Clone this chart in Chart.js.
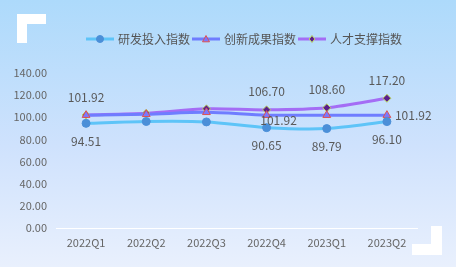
<!DOCTYPE html>
<html>
<head>
<meta charset="utf-8">
<script src="https://cdn.jsdelivr.net/npm/chart.js@4/dist/chart.umd.min.js"></script>
<style>
	html, body { margin: 0; padding: 0; }
	body {
		width: 456px; height: 267px; overflow: hidden; position: relative;
		background: linear-gradient(180deg, #addafb 0%, #cfe2fd 55%, #e9f0fd 100%);
	}
	.corner { position: absolute; background: #fff; }
	.chart-box { position: absolute; left: 0; top: 0; width: 456px; height: 267px; }
</style>
</head>
<body>
<div class="corner" style="left:17px;top:14px;width:10px;height:29px"></div>
<div class="corner" style="left:17px;top:14px;width:29px;height:10px"></div>
<div class="corner" style="left:431px;top:226px;width:11px;height:29px"></div>
<div class="corner" style="left:412px;top:244px;width:30px;height:11px"></div>
<div class="chart-box"><canvas id="c" width="456" height="267"></canvas></div>
<script>
// data
var categories = ["2022Q1", "2022Q2", "2022Q3", "2022Q4", "2023Q1", "2023Q2"];
var seriesNames = ["研发投入指数", "创新成果指数", "人才支撑指数"];
var rdInput = [94.51, 96.2, 95.8, 90.65, 89.79, 96.10];
var innovation = [101.92, 102.7, 104.5, 101.92, 101.92, 101.92];
var talent = [102.1, 103.6, 107.6, 106.70, 108.60, 117.20];
var yTicks = [0, 20, 40, 60, 80, 100, 120, 140];

var FONT = "'Noto Sans CJK SC', 'Noto Sans', sans-serif";

// which point labels are shown, and where
var labelPlaces = [
	["bottom", null, null, "bottom", "bottom", "bottom"],
	["top", null, null, "rightbelow", null, "right"],
	[null, null, null, "top", "top", "top"],
];

var styles = [
	{ line: "#5ec4f8", fill: "#4b8fd8", border: "#4b8fd8", shape: "circle", size: 4 },
	{ line: "#6f7dff", fill: "#7a78ff", border: "#e0504f", shape: "triangle", size: 4.5 },
	{ line: "#a46df5", fill: "#5b1e8c", border: "#b9d95f", shape: "rectRot", size: 4 },
];

function drawMarker(ctx, shape, x, y, r, fill, stroke) {
	ctx.save();
	ctx.fillStyle = fill;
	ctx.strokeStyle = stroke;
	ctx.lineWidth = 1;
	ctx.beginPath();
	if (shape === "circle") {
		ctx.arc(x, y, r, 0, Math.PI * 2);
	} else if (shape === "triangle") {
		ctx.moveTo(x, y - r);
		ctx.lineTo(x + r, y + r * 0.8);
		ctx.lineTo(x - r, y + r * 0.8);
		ctx.closePath();
	} else {
		ctx.moveTo(x, y - r);
		ctx.lineTo(x + r * 0.8, y);
		ctx.lineTo(x, y + r);
		ctx.lineTo(x - r * 0.8, y);
		ctx.closePath();
	}
	ctx.fill();
	ctx.stroke();
	ctx.restore();
}

var extrasPlugin = {
	id: "extras",
	afterDatasetsDraw(chart) {
		const ctx = chart.ctx;
		// point labels
		ctx.save();
		ctx.font = "12px " + FONT;
		ctx.fillStyle = "#595959";
		chart.data.datasets.forEach((ds, i) => {
			const meta = chart.getDatasetMeta(i);
			meta.data.forEach((pt, j) => {
				const place = labelPlaces[i][j];
				if (!place) return;
				const txt = ds.data[j].toFixed(2);
				let x = pt.x, y = pt.y;
				ctx.textAlign = "center";
				ctx.textBaseline = "middle";
				if (place === "top") y -= 18;
				else if (place === "bottom") y += 18;
				else if (place === "right") { x += 8; ctx.textAlign = "left"; }
				else if (place === "rightbelow") { x += 12; y += 5; }
				ctx.fillText(txt, x, y);
			});
		});
		ctx.restore();

		// legend
		ctx.save();
		ctx.font = "12px " + FONT;
		ctx.textBaseline = "middle";
		ctx.textAlign = "left";
		const ly = 39;
		const starts = [86, 192, 298];
		seriesNames.forEach((name, i) => {
			const s = styles[i];
			const x0 = starts[i];
			ctx.strokeStyle = s.line;
			ctx.lineWidth = 3;
			ctx.beginPath();
			ctx.moveTo(x0, ly);
			ctx.lineTo(x0 + 28, ly);
			ctx.stroke();
			drawMarker(ctx, s.shape, x0 + 14, ly, 3.5, s.fill, s.border);
			ctx.fillStyle = "#555";
			ctx.fillText(name, x0 + 32, ly);
		});
		ctx.restore();
	},
};

var seriesData = [rdInput, innovation, talent];

new Chart(document.getElementById("c"), {
	type: "line",
	data: {
		labels: categories,
		datasets: seriesData.map((d, i) => ({
			label: seriesNames[i],
			data: d,
			borderColor: styles[i].line,
			borderWidth: 3,
			tension: 0.3,
			pointStyle: styles[i].shape,
			pointRadius: styles[i].size,
			pointBackgroundColor: styles[i].fill,
			pointBorderColor: styles[i].border,
			pointBorderWidth: 1,
		})),
	},
	options: {
		responsive: false,
		animation: false,
		layout: { padding: { top: 73, right: 39, left: 0, bottom: 0 } },
		plugins: {
			legend: { display: false },
			tooltip: { enabled: false },
		},
		scales: {
			x: {
				offset: true,
				grid: { display: false, drawTicks: false },
				border: { display: true, color: "#ffffff", width: 1 },
				ticks: {
					padding: 8,
					color: "#666",
					font: { size: 11, family: FONT },
					maxRotation: 0,
				},
				afterFit(scale) { scale.height = 39; },
			},
			y: {
				min: 0,
				max: 140,
				afterBuildTicks(scale) { scale.ticks = yTicks.map((v) => ({ value: v })); },
				grid: { display: false, drawTicks: false },
				border: { display: false },
				ticks: {
					padding: 9,
					color: "#666",
					font: { size: 11, family: FONT },
					callback: (v) => Number(v).toFixed(2),
				},
				afterFit(scale) { scale.width = 56; },
			},
		},
	},
	plugins: [extrasPlugin],
});
</script>
</body>
</html>
